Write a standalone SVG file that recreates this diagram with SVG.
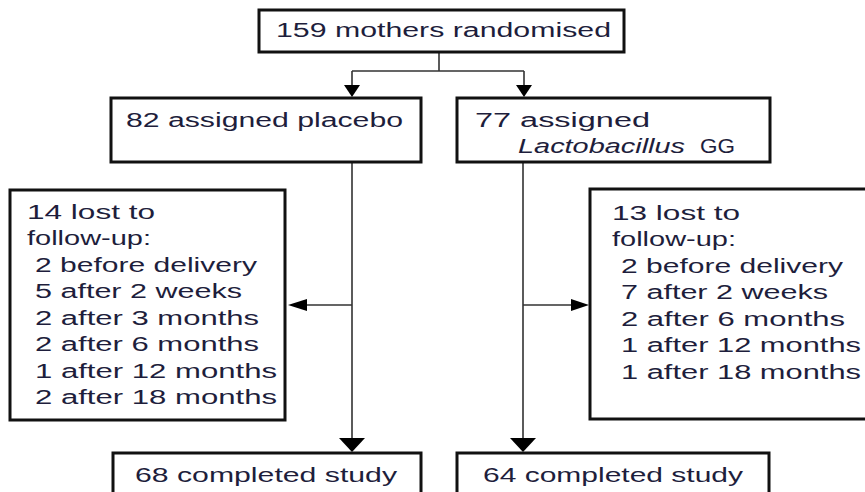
<svg xmlns="http://www.w3.org/2000/svg" width="865" height="492" viewBox="0 0 865 492">
<style>
.box{fill:#fff;stroke:#111;stroke-width:3}
.t{font-family:"Liberation Sans",Arial,sans-serif;font-size:19.5px;fill:#1e1e3c}
.i{font-style:italic}
.ln{stroke:#333;stroke-width:1.6;fill:none}
.ah{fill:#000}
</style>
<rect width="865" height="492" fill="#fff"/>
<g id="connectors">
<path class="ln" d="M439,52 V71 M352,71 H524 M352,71 V86 M524,71 V86"/>
<polygon class="ah" points="344,85 360,85 352,97"/>
<polygon class="ah" points="516,85 532,85 524,97"/>
<path class="ln" d="M352,162 V440 M352,305 H305"/>
<polygon class="ah" points="339,438 365,438 352,452"/>
<polygon class="ah" points="307,299 307,311 288,305"/>
<path class="ln" d="M523,162 V440 M523,305 H572"/>
<polygon class="ah" points="510,438 536,438 523,452"/>
<polygon class="ah" points="571,299 571,311 589,305"/>
</g>
<g id="randomised">
<rect class="box" x="259" y="10" width="365" height="42"/>
<text class="t" x="276" y="37" textLength="335" lengthAdjust="spacingAndGlyphs">159 mothers randomised</text>
</g>
<g id="placebo">
<rect class="box" x="111" y="98" width="310" height="64"/>
<text class="t" x="126" y="127" textLength="277" lengthAdjust="spacingAndGlyphs">82 assigned placebo</text>
</g>
<g id="lactobacillus">
<rect class="box" x="457" y="98" width="313" height="64"/>
<text class="t" x="475" y="127" textLength="175" lengthAdjust="spacingAndGlyphs">77 assigned</text>
<text class="t i" x="518" y="153" textLength="167" lengthAdjust="spacingAndGlyphs">Lactobacillus</text>
<text class="t" x="700" y="153" textLength="35" lengthAdjust="spacingAndGlyphs">GG</text>
</g>
<g id="lost-placebo">
<rect class="box" x="10" y="190" width="275" height="230"/>
<text class="t" x="27" y="219" textLength="128" lengthAdjust="spacingAndGlyphs">14 lost to</text>
<text class="t" x="27" y="245" textLength="124" lengthAdjust="spacingAndGlyphs">follow-up:</text>
<text class="t" x="35" y="272" textLength="222" lengthAdjust="spacingAndGlyphs">2 before delivery</text>
<text class="t" x="35" y="298" textLength="207" lengthAdjust="spacingAndGlyphs">5 after 2 weeks</text>
<text class="t" x="35" y="325" textLength="224" lengthAdjust="spacingAndGlyphs">2 after 3 months</text>
<text class="t" x="35" y="351" textLength="224" lengthAdjust="spacingAndGlyphs">2 after 6 months</text>
<text class="t" x="35" y="378" textLength="242" lengthAdjust="spacingAndGlyphs">1 after 12 months</text>
<text class="t" x="35" y="404" textLength="242" lengthAdjust="spacingAndGlyphs">2 after 18 months</text>
</g>
<g id="lost-lactobacillus">
<rect class="box" x="590" y="189" width="280" height="230"/>
<text class="t" x="612" y="220" textLength="128" lengthAdjust="spacingAndGlyphs">13 lost to</text>
<text class="t" x="612" y="246" textLength="124" lengthAdjust="spacingAndGlyphs">follow-up:</text>
<text class="t" x="621" y="273" textLength="222" lengthAdjust="spacingAndGlyphs">2 before delivery</text>
<text class="t" x="621" y="299" textLength="207" lengthAdjust="spacingAndGlyphs">7 after 2 weeks</text>
<text class="t" x="621" y="326" textLength="224" lengthAdjust="spacingAndGlyphs">2 after 6 months</text>
<text class="t" x="621" y="352" textLength="240" lengthAdjust="spacingAndGlyphs">1 after 12 months</text>
<text class="t" x="621" y="379" textLength="240" lengthAdjust="spacingAndGlyphs">1 after 18 months</text>
</g>
<g id="completed-placebo">
<rect class="box" x="113" y="453" width="308" height="50"/>
<text class="t" x="135" y="482" textLength="262" lengthAdjust="spacingAndGlyphs">68 completed study</text>
</g>
<g id="completed-lactobacillus">
<rect class="box" x="457" y="453" width="312" height="50"/>
<text class="t" x="483" y="482" textLength="260" lengthAdjust="spacingAndGlyphs">64 completed study</text>
</g>
</svg>
